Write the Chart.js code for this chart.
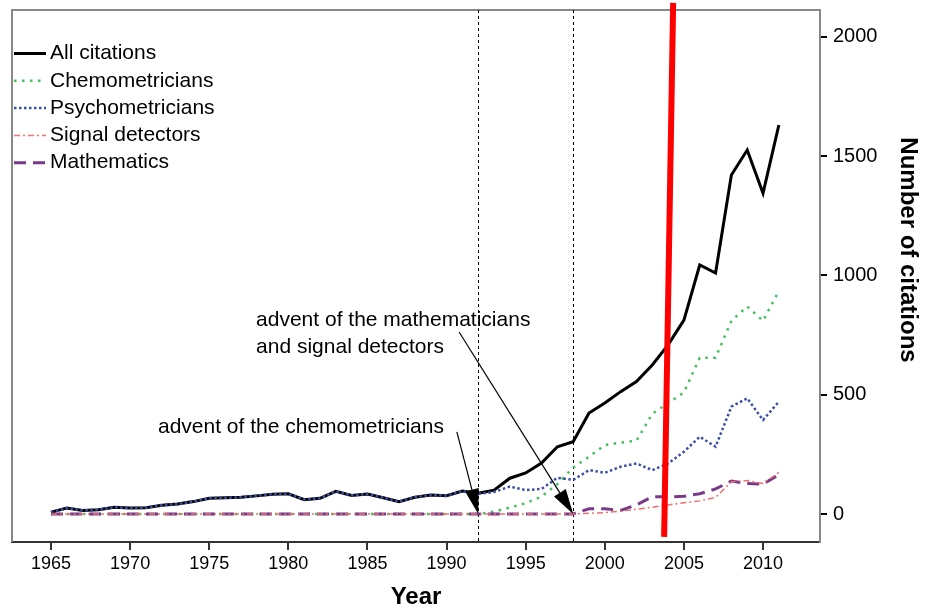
<!DOCTYPE html>
<html>
<head>
<meta charset="utf-8">
<script src="https://cdn.jsdelivr.net/npm/chart.js@4.4.1/dist/chart.umd.min.js"></script>
<style>
  html, body { margin: 0; padding: 0; background: #fff; }
  canvas { display: block; }
</style>
</head>
<body>
<canvas id="c" width="927" height="609"></canvas>
<script>
const years = [1965,1966,1967,1968,1969,1970,1971,1972,1973,1974,1975,1976,1977,1978,1979,1980,1981,1982,1983,1984,1985,1986,1987,1988,1989,1990,1991,1992,1993,1994,1995,1996,1997,1998,1999,2000,2001,2002,2003,2004,2005,2006,2007,2008,2009,2010,2011];
const allCitations = [8,25,15,18,28,25,26,37,42,52,66,68,70,76,83,85,60,66,95,78,84,68,52,70,80,77,96,87,100,150,172,214,282,303,423,465,513,555,625,709,813,1044,1010,1421,1526,1345,1631];
const chemometricians = [0,0,0,0,0,0,0,0,0,0,0,0,0,0,0,0,0,0,0,0,0,0,0,0,0,0,0,0,10,27,45,73,125,195,240,289,299,307,420,465,510,655,655,810,870,810,935];
const psychometricians = [8,25,15,18,28,25,26,37,42,52,66,68,70,76,83,85,60,66,95,78,84,68,52,70,80,77,96,85,92,115,100,105,152,143,184,173,198,212,184,212,261,324,282,450,485,394,471];
const signalDetectors = [0,0,0,0,0,0,0,0,0,0,0,0,0,0,0,0,0,0,0,0,0,0,0,0,0,0,0,0,0,0,0,0,0,0,3,6,12,20,28,38,47,55,70,135,140,128,175];
const mathematics = [0,0,0,0,0,0,0,0,0,0,0,0,0,0,0,0,0,0,0,0,0,0,0,0,0,0,0,0,0,0,0,0,0,0,22,22,15,38,72,72,74,85,105,138,128,125,165];
const seriesLabels = ['All citations','Chemometricians','Psychometricians','Signal detectors','Mathematics'];
const xTickYears = [1965,1970,1975,1980,1985,1990,1995,2000,2005,2010];
const yTickValues = [0,500,1000,1500,2000];
const adventYears = [1992,1998];
const annotationLines = ['advent of the mathematicians','and signal detectors','advent of the chemometricians'];
const xTitle = 'Year';
const yTitle = 'Number of citations';

const FONT = '"Liberation Sans", Arial, sans-serif';
const pts = arr => years.map((yr, i) => ({ x: yr, y: arr[i] }));

const styles = [
  { color: '#000000', width: 3,   dash: [],          order: 1 },
  { color: '#45c060', width: 2.5, dash: [2.5, 5.5],  order: 4 },
  { color: '#3b4fa8', width: 2.5, dash: [2.5, 2.5],  order: 0 },
  { color: '#f07070', width: 1.5, dash: [6, 3, 2, 3],order: 2 },
  { color: '#7a3a8a', width: 3,   dash: [12, 7],     order: 3 }
];
const seriesData = [allCitations, chemometricians, psychometricians, signalDetectors, mathematics];

const datasets = seriesData.map((arr, i) => ({
  label: seriesLabels[i],
  data: pts(arr),
  borderColor: styles[i].color,
  backgroundColor: styles[i].color,
  borderWidth: styles[i].width,
  borderDash: styles[i].dash,
  pointRadius: 0,
  tension: 0,
  fill: false,
  order: styles[i].order
}));

function arrow(ctx, x1, y1, x2, y2) {
  const ang = Math.atan2(y2 - y1, x2 - x1);
  const L = 25, W = 7;
  const bx = x2 - L * Math.cos(ang), by = y2 - L * Math.sin(ang);
  ctx.beginPath();
  ctx.moveTo(x1, y1);
  ctx.lineTo(bx, by);
  ctx.strokeStyle = '#000';
  ctx.lineWidth = 1.2;
  ctx.setLineDash([]);
  ctx.stroke();
  ctx.beginPath();
  ctx.moveTo(x2, y2);
  ctx.lineTo(bx + W * Math.sin(ang), by - W * Math.cos(ang));
  ctx.lineTo(bx - W * Math.sin(ang), by + W * Math.cos(ang));
  ctx.closePath();
  ctx.fillStyle = '#000';
  ctx.fill();
}

const decor = {
  id: 'decor',
  beforeDatasetsDraw(chart) {
    const { ctx, chartArea: a, scales: { x } } = chart;
    ctx.save();
    ctx.strokeStyle = '#888';
    ctx.lineWidth = 2;
    ctx.setLineDash([]);
    ctx.beginPath();
    ctx.moveTo(a.left, a.bottom);
    ctx.lineTo(a.left, a.top);
    ctx.lineTo(a.right, a.top);
    ctx.stroke();
    ctx.strokeStyle = '#000';
    ctx.lineWidth = 1;
    ctx.setLineDash([3, 3]);
    adventYears.forEach(yr => {
      const px = Math.round(x.getPixelForValue(yr)) + 0.5;
      ctx.beginPath();
      ctx.moveTo(px, a.top);
      ctx.lineTo(px, a.bottom);
      ctx.stroke();
    });
    ctx.restore();
  },
  afterDraw(chart) {
    const { ctx, chartArea: a, scales: { x, y } } = chart;
    ctx.save();
    ctx.fillStyle = '#000';
    ctx.font = '21px ' + FONT;
    ctx.textBaseline = 'middle';
    ctx.textAlign = 'left';
    ctx.fillText(annotationLines[0], x.getPixelForValue(1977.96), y.getPixelForValue(813));
    ctx.fillText(annotationLines[1], x.getPixelForValue(1977.96), y.getPixelForValue(700));
    ctx.fillText(annotationLines[2], x.getPixelForValue(1971.76), y.getPixelForValue(365));
    arrow(ctx, x.getPixelForValue(1990.79), y.getPixelForValue(763), x.getPixelForValue(adventYears[1]), y.getPixelForValue(0));
    arrow(ctx, x.getPixelForValue(1990.65), y.getPixelForValue(344), x.getPixelForValue(adventYears[0]), y.getPixelForValue(0));
    chart.data.datasets.forEach((ds, i) => {
      const ly = 53.5 + i * 27.3;
      ctx.beginPath();
      ctx.strokeStyle = ds.borderColor;
      ctx.lineWidth = ds.borderWidth;
      ctx.setLineDash(ds.borderDash);
      ctx.moveTo(14, ly);
      ctx.lineTo(46, ly);
      ctx.stroke();
      ctx.setLineDash([]);
      ctx.fillStyle = '#000';
      ctx.font = '21px ' + FONT;
      ctx.fillText(ds.label, 50, ly);
    });
    ctx.font = 'bold 24px ' + FONT;
    ctx.textAlign = 'center';
    ctx.textBaseline = 'middle';
    ctx.fillText(xTitle, (a.left + a.right) / 2, 597);
    ctx.save();
    ctx.translate(908, 250);
    ctx.rotate(Math.PI / 2);
    ctx.fillText(yTitle, 0, 0);
    ctx.restore();
    ctx.beginPath();
    ctx.strokeStyle = '#ff0000';
    ctx.lineWidth = 6;
    ctx.setLineDash([]);
    ctx.moveTo(x.getPixelForValue(2004.32), y.getPixelForValue(2143));
    ctx.lineTo(x.getPixelForValue(2003.75), y.getPixelForValue(-96));
    ctx.stroke();
    ctx.restore();
  }
};

new Chart(document.getElementById('c'), {
  type: 'line',
  data: { datasets },
  plugins: [decor],
  options: {
    responsive: false,
    animation: false,
    events: [],
    layout: { padding: { left: 12, top: 10, right: 0, bottom: 0 } },
    plugins: { legend: { display: false }, tooltip: { enabled: false } },
    scales: {
      x: {
        type: 'linear',
        position: 'bottom',
        min: 1962.535,
        max: 2013.6,
        afterFit: s => { s.height = 67; s.paddingLeft = 0; s.paddingRight = 0; },
        afterBuildTicks: s => { s.ticks = xTickYears.map(v => ({ value: v })); },
        ticks: {
          callback: v => String(v),
          color: '#000',
          font: { family: FONT, size: 18 },
          padding: 3,
          maxRotation: 0,
          autoSkip: false
        },
        grid: { display: true, drawOnChartArea: false, drawTicks: true, tickLength: 8, color: '#333', lineWidth: 2 },
        border: { display: true, color: '#333', width: 2 }
      },
      y: {
        type: 'linear',
        position: 'right',
        min: -117.4,
        max: 2113,
        afterFit: s => { s.width = 107; s.paddingTop = 0; s.paddingBottom = 0; },
        afterBuildTicks: s => { s.ticks = yTickValues.map(v => ({ value: v })); },
        ticks: {
          callback: v => String(v),
          color: '#000',
          font: { family: FONT, size: 20 },
          padding: 6,
          autoSkip: false
        },
        grid: { display: true, drawOnChartArea: false, drawTicks: true, tickLength: 7, color: '#000', lineWidth: 2 },
        border: { display: true, color: '#888', width: 2 }
      }
    }
  }
});
</script>
</body>
</html>
